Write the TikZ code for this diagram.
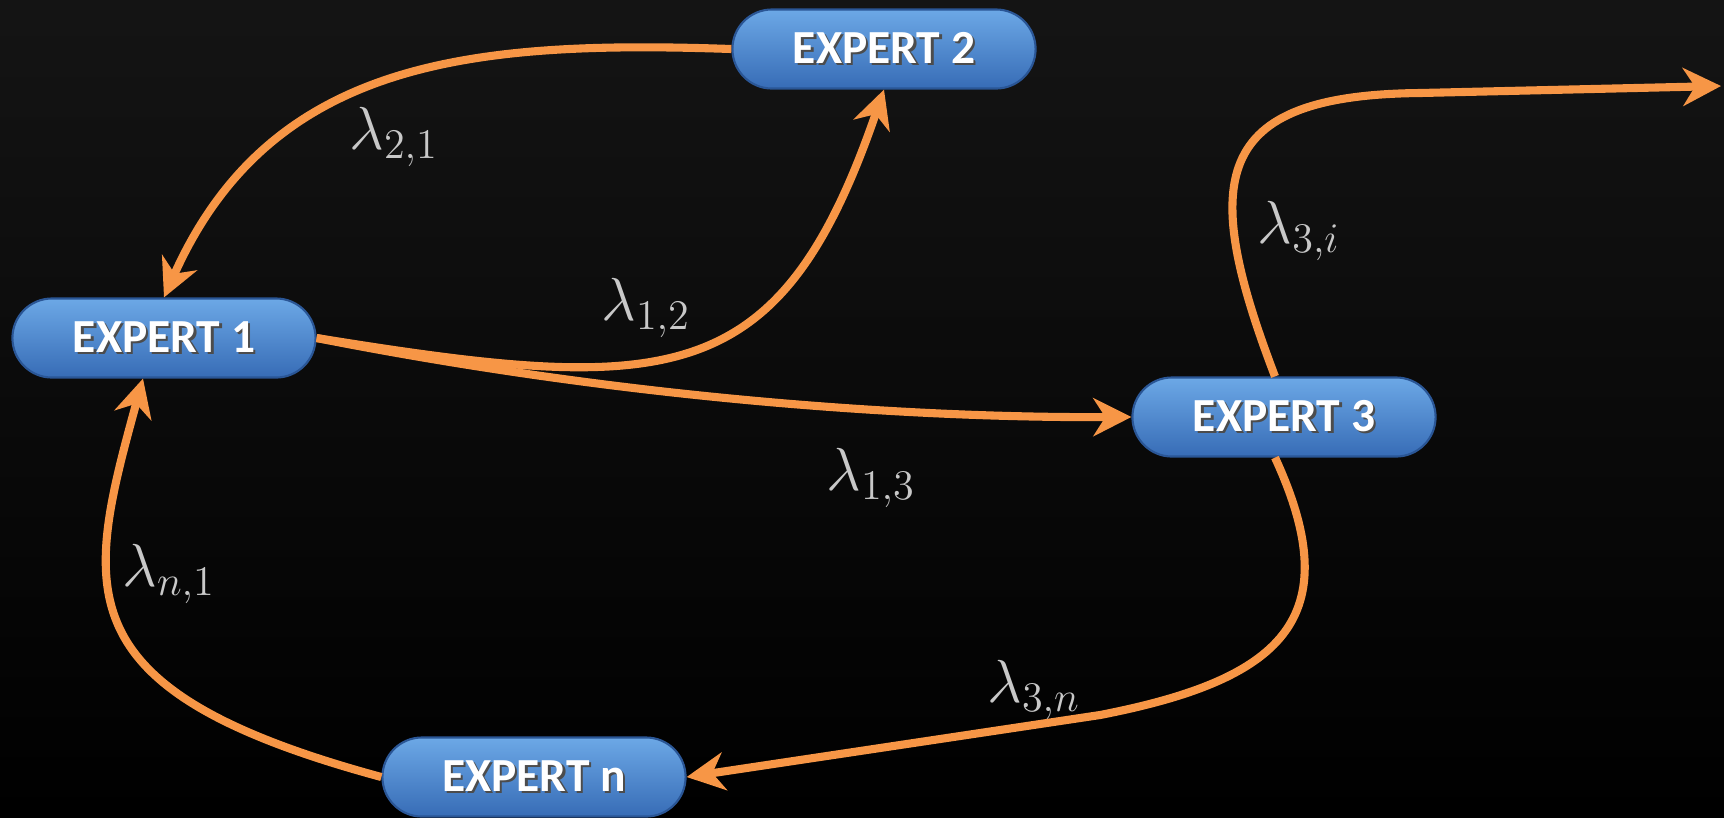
\documentclass[tikz,border=0pt]{standalone}
\usepackage{fontspec}
\setmainfont{Carlito}
\usetikzlibrary{arrows.meta,calc}
\definecolor{flowc}{RGB}{247,150,70}
\definecolor{btop}{RGB}{108,168,230}
\definecolor{bbot}{RGB}{55,108,182}
\definecolor{bedge}{RGB}{42,86,150}
\definecolor{ratec}{RGB}{200,200,200}
\newcommand{\shadowed}[1]{\makebox[0pt][l]{\hspace{0.7pt}\raisebox{-0.7pt}{\color{black!70}#1}}#1}
\begin{document}
\begin{tikzpicture}[x=0.01cm,y=-0.01cm]
  \tikzstyle{expert}=[rectangle,rounded corners=0.395cm,minimum width=3.03cm,minimum height=0.79cm,inner sep=0pt,
    top color=btop,bottom color=bbot,draw=bedge,line width=0.6pt,text=white,font=\fontsize{13.5}{16}\selectfont\bfseries]
  \tikzstyle{flow}=[draw=flowc,line width=2.3pt,-{Stealth[length=3.8mm,width=3.8mm,inset=1.2mm]}]
  \tikzstyle{rate}=[text=ratec,font=\fontsize{18}{22}\selectfont]
  \useasboundingbox (0,0) rectangle (1724,817);
  \fill[top color=black!92,bottom color=black] (0,0) rectangle (1724,817);
  \node[expert] (e1) at (164,338) {\shadowed{EXPERT 1}};
  \node[expert] (e2) at (884,49) {\shadowed{EXPERT 2}};
  \node[expert] (e3) at (1284,417) {\shadowed{EXPERT 3}};
  \node[expert] (en) at (534,777) {\shadowed{EXPERT n}};
  \coordinate (out) at (1721,86);
  \draw[flow] (e2.west) .. controls (470,40) and (270,60) .. (e1.north);
  \draw[flow] (e1.east) .. controls (670,395) and (780,392) .. (e2.south);
  \draw[flow] (e1.east) .. controls (616,397) and (900,418) .. (e3.west);
  \draw[flow] ($(e3.north)+(-9,0)$) .. controls (1200,180) and (1210,95) .. (1420,93) -- (out);
  \draw[flow] ($(e3.south)+(-9,0)$) .. controls (1350,620) and (1280,680) .. (1100,715) -- (en.east);
  \draw[flow] (en.west) .. controls (60,690) and (85,590) .. ($(e1.south)+(-21,0)$);
  \node[rate] (l21) at (394,137) {$\lambda_{2,1}$};
  \node[rate] (l12) at (646,308) {$\lambda_{1,2}$};
  \node[rate] (l13) at (871,478) {$\lambda_{1,3}$};
  \node[rate] (l3i) at (1299,231) {$\lambda_{3,i}$};
  \node[rate] (l3n) at (1034,690) {$\lambda_{3,n}$};
  \node[rate] (ln1) at (169,574) {$\lambda_{n,1}$};
\end{tikzpicture}
\end{document}
